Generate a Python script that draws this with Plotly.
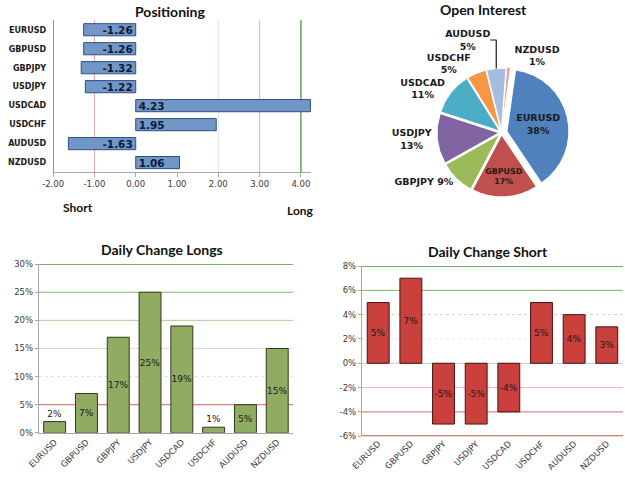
import plotly.graph_objects as go

# ---------------- data ----------------
pairs = ["EURUSD", "GBPUSD", "GBPJPY", "USDJPY", "USDCAD", "USDCHF", "AUDUSD", "NZDUSD"]
positioning = [-1.26, -1.26, -1.32, -1.22, 4.23, 1.95, -1.63, 1.06]
open_interest = [38, 17, 9, 13, 11, 5, 5, 1]
daily_longs = [2, 7, 17, 25, 19, 1, 5, 15]
daily_short = [5, 7, -5, -5, -4, 5, 4, 3]

pos_ticks = [-2, -1, 0, 1, 2, 3, 4]
long_ticks = [0, 5, 10, 15, 20, 25, 30]
short_ticks = [-6, -4, -2, 0, 2, 4, 6, 8]

pos_grid = [-2, -1, 2, 3, 4]
long_grid = [30, 25, 20, 15, 10, 5]
short_grid = [8, 6, 4, 2, 0, -2, -4, -6]

# ---------------- styles ----------------
pos_grid_style = [("#c0504d", 1.5, "solid"), ("#e5a3a1", 1, "solid"), ("#dbe9d3", 1, "solid"),
                  ("#a9d096", 1, "solid"), ("#62a852", 1.5, "solid")]
long_grid_style = [("#4f9a3c", 1.5, "solid"), ("#7dbb60", 1, "solid"), ("#a8d293", 1, "solid"),
                   ("#cde5c1", 1, "solid"), ("#dcdcdc", 1, "dot"), ("#e06060", 1, "solid")]
short_grid_style = [("#3f8f2f", 1.5, "solid"), ("#7ab860", 1, "solid"), ("#bcdcac", 1, "dot"),
                    ("#dfeada", 1, "dot"), ("#c8c8c8", 1, "solid"), ("#ebb6b6", 1, "solid"),
                    ("#d46a6a", 1, "solid"), ("#c0504d", 2, "solid")]
pie_colors = ["#4f81bd", "#c0504d", "#9bbb59", "#8064a2", "#4bacc6", "#f79646", "#a7bde0", "#e9a3a3"]

TICKFONT = dict(family="DejaVu Sans", size=8.5, color="#3a3a3a")
TITLEFONT = dict(family="Lato", size=14, color="#111111", weight="bold")

fig = go.Figure()

# Positioning (horizontal bars)
fig.add_trace(go.Bar(
    y=pairs, x=positioning, orientation="h", xaxis="x", yaxis="y", width=0.64,
    marker=dict(color="#7196c8", line=dict(color="#2f4f7f", width=1)),
    text=[f"{v:.2f}" for v in positioning], textposition="inside", insidetextanchor="start",
    textangle=0,
    textfont=dict(family="DejaVu Sans", size=10.5, color="#0d1a33", weight="bold"),
    constraintext="none", showlegend=False, hoverinfo="x+y"))

# Open interest pie
pie_pos = ["inside", "inside", "outside", "outside", "outside", "outside", "outside", "outside"]
pie_tmpl = ["%{label}<br>%{value}%"] * len(pairs)
pie_tmpl[2] = "%{label} %{value}%"
fig.add_trace(go.Pie(
    labels=pairs, values=open_interest, sort=False, direction="clockwise", rotation=8,
    domain=dict(x=[0.63, 0.975], y=[0.585, 0.865]),
    marker=dict(colors=pie_colors, line=dict(color="white", width=1)),
    pull=[0.09, 0.04, 0.04, 0.04, 0.04, 0.04, 0.04, 0.06],
    textposition=pie_pos, texttemplate=pie_tmpl, insidetextorientation="horizontal",
    textfont=dict(family="DejaVu Sans", size=9.5, color="#1a1a1a", weight="bold"),
    automargin=False, showlegend=False))

# Daily change longs
fig.add_trace(go.Bar(
    x=pairs, y=daily_longs, xaxis="x2", yaxis="y2", width=0.69,
    marker=dict(color="#90ab62", line=dict(color="#2e3a1a", width=1)),
    text=[f"{v}%" for v in daily_longs], textposition="auto", insidetextanchor="middle",
    textangle=0,
    textfont=dict(family="DejaVu Sans", size=9, color="#1a1a1a"),
    constraintext="none", showlegend=False))

# Daily change short
fig.add_trace(go.Bar(
    x=pairs, y=daily_short, xaxis="x3", yaxis="y3", width=0.67,
    marker=dict(color="#c9403c", line=dict(color="#4a1212", width=1)),
    text=[f"{v}%" for v in daily_short], textposition="inside", insidetextanchor="middle",
    textangle=0,
    textfont=dict(family="DejaVu Sans", size=9, color="#1a1a1a"),
    constraintext="none", showlegend=False))

shapes = []
for v, (c, w, d) in zip(pos_grid, pos_grid_style):
    shapes.append(dict(type="line", xref="x", yref="y domain", x0=v, x1=v, y0=0, y1=1,
                       line=dict(color=c, width=w, dash=d), layer="below"))
for v, (c, w, d) in zip(long_grid, long_grid_style):
    shapes.append(dict(type="line", xref="x2 domain", yref="y2", x0=0, x1=1, y0=v, y1=v,
                       line=dict(color=c, width=w, dash=d), layer="below"))
for v, (c, w, d) in zip(short_grid, short_grid_style):
    shapes.append(dict(type="line", xref="x3 domain", yref="y3", x0=0, x1=1, y0=v, y1=v,
                       line=dict(color=c, width=w, dash=d), layer="below"))

annotations = [
    dict(text="Positioning", x=0.272, y=1 - 11 / 482),
    dict(text="Open Interest", x=0.773, y=1 - 9 / 482),
    dict(text="Daily Change Longs", x=0.259, y=1 - 249 / 482),
    dict(text="Daily Change Short", x=0.781, y=1 - 251 / 482),
]
for a in annotations:
    a.update(xref="paper", yref="paper", showarrow=False, font=TITLEFONT,
             xanchor="center", yanchor="middle")
annotations += [
    dict(text="Short", x=61 / 625, y=1 - 207 / 482, xref="paper", yref="paper", showarrow=False,
         font=dict(family="Lato", size=12, color="#111111", weight="bold")),
    dict(text="Long", x=300 / 625, y=1 - 210 / 482, xref="paper", yref="paper", showarrow=False,
         font=dict(family="Lato", size=12, color="#111111", weight="bold")),
]

fig.update_layout(
    width=625, height=482, margin=dict(l=0, r=0, t=0, b=0, autoexpand=False),
    paper_bgcolor="white", plot_bgcolor="white", barmode="overlay",
    font=dict(family="DejaVu Sans"),
    xaxis=dict(domain=[0.085, 0.498], range=[-2, 4.25], tickvals=pos_ticks,
               ticktext=[f"{v:.2f}" for v in pos_ticks], automargin=False,
               showgrid=False, zeroline=False, showline=True, linecolor="#a6a6a6",
               ticks="outside", ticklen=4, tickcolor="#a6a6a6", tickfont=TICKFONT, anchor="y"),
    yaxis=dict(domain=[0.643, 0.958], autorange="reversed", showgrid=False, zeroline=False,
               showline=False, ticks="", ticklabelstandoff=6, automargin=False,
               tickfont=dict(family="DejaVu Sans", size=8, color="#1a1a1a", weight="bold"),
               anchor="x"),
    xaxis2=dict(domain=[0.062, 0.469], showgrid=False, zeroline=False, showline=True,
                linecolor="#a6a6a6", tickangle=-45, tickfont=TICKFONT, anchor="y2",
                automargin=False),
    yaxis2=dict(domain=[0.102, 0.452], range=[0, 30], tickvals=long_ticks,
                ticktext=[f"{v}%" for v in long_ticks], automargin=False,
                showgrid=False, zeroline=False, showline=True, linecolor="#a6a6a6",
                ticks="outside", ticklen=3, tickcolor="#a6a6a6", tickfont=TICKFONT, anchor="x2"),
    xaxis3=dict(domain=[0.579, 0.997], showgrid=False, zeroline=False, showline=False,
                tickangle=-45, tickfont=TICKFONT, anchor="y3", automargin=False),
    yaxis3=dict(domain=[0.095, 0.448], range=[-6, 8], tickvals=short_ticks,
                ticktext=[f"{v}%" for v in short_ticks], automargin=False,
                showgrid=False, zeroline=False, showline=True, linecolor="#a6a6a6",
                ticks="outside", ticklen=3, tickcolor="#a6a6a6", tickfont=TICKFONT, anchor="x3"),
    shapes=shapes, annotations=annotations,
)

fig.write_html("out.html")
